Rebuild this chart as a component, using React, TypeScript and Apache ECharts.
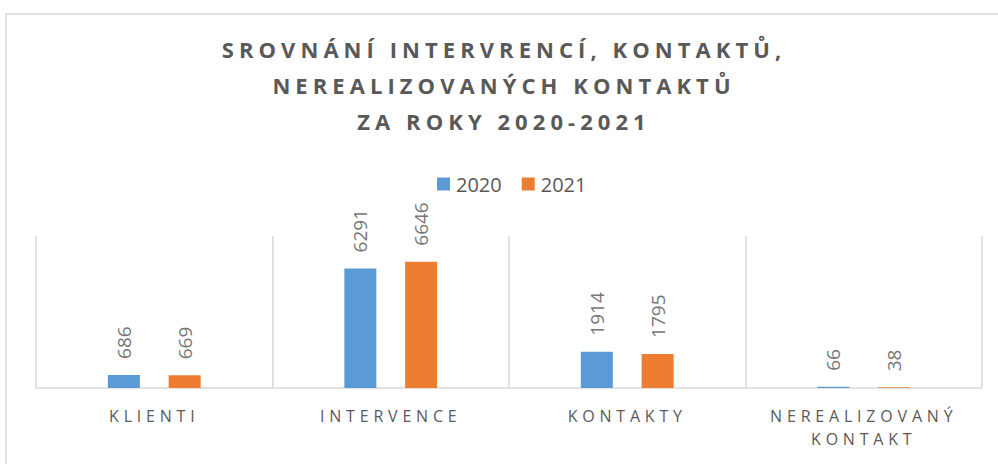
import React, { useEffect, useRef } from "react";
import * as echarts from "echarts";

const categories = ["KLIENTI", "INTERVENCE", "KONTAKTY", "NEREALIZOVANÝ KONTAKT"];
const seriesNames = ["2020", "2021"];
const values2020 = [686, 6291, 1914, 66];
const values2021 = [669, 6646, 1795, 38];
const titleLines = ["SROVNÁNÍ INTERVRENCÍ, KONTAKTŮ,", "NEREALIZOVANÝCH KONTAKTŮ", "ZA ROKY 2020-2021"];

const TITLE_COLOR = "#595959";
const AXIS_COLOR = "#5a5a5a";

export default function App() {
  const ref = useRef<HTMLDivElement>(null);
  useEffect(() => {
    if (!ref.current) return;
    const chart = echarts.init(ref.current, null, { renderer: "svg" });
    const font = "Open Sans";
    const label = {
      show: true,
      position: "top",
      rotate: 90,
      align: "left",
      verticalAlign: "middle",
      distance: 16,
      fontSize: 19,
      color: "#767676",
      fontFamily: font,
    };
    chart.setOption({
      animation: false,
      backgroundColor: "#ffffff",
      title: {
        text: titleLines.join("\n"),
        left: 499,
        top: 26,
        textAlign: "center",
        textStyle: {
          fontSize: 22,
          fontWeight: "bold",
          color: TITLE_COLOR,
          lineHeight: 36,
          fontFamily: font,
        },
      },
      legend: {
        data: seriesNames,
        left: 432,
        top: 169,
        icon: "rect",
        itemWidth: 13,
        itemHeight: 13,
        itemGap: 20,
        textStyle: { fontSize: 20, color: "#595957", fontFamily: font, padding: [0, 0, 0, 1] },
      },
      graphic: [
        {
          type: "rect",
          silent: true,
          z: -10,
          shape: { x: 6, y: 14, width: 1100, height: 600 },
          style: { fill: "none", stroke: "#d9d9d9", lineWidth: 1.5 },
        },
      ],
      grid: { left: 36, right: 16, top: 236, bottom: 76 },
      xAxis: {
        type: "category",
        data: categories,
        axisLine: { lineStyle: { color: "#d9d9d9", width: 1.5 } },
        axisTick: { show: false },
        splitLine: { show: true, lineStyle: { color: "#d9d9d9", width: 1.5 } },
        axisLabel: {
          interval: 0,
          margin: 16,
          fontSize: 16,
          lineHeight: 23,
          color: AXIS_COLOR,
          fontFamily: font,
          formatter: (v: string) => v.replace(" ", "\n"),
        },
      },
      yAxis: {
        type: "value",
        min: 0,
        max: 8000,
        show: false,
        splitLine: { show: false },
      },
      series: [
        {
          name: seriesNames[0],
          type: "bar",
          data: values2020,
          barWidth: 32,
          barGap: "90%",
          itemStyle: { color: "#5b9bd5" },
          label,
        },
        {
          name: seriesNames[1],
          type: "bar",
          data: values2021,
          barWidth: 32,
          barGap: "90%",
          itemStyle: { color: "#ed7d31" },
          label,
        },
      ],
    });
    return () => chart.dispose();
  }, []);
  return (
    <>
      <style>{`
        text[fill="${TITLE_COLOR}"] { letter-spacing: 0.23em; }
        text[fill="${AXIS_COLOR}"] { letter-spacing: 0.3em; }
      `}</style>
      <div
        ref={ref}
        style={{ position: "fixed", left: 0, top: 0, width: 998, height: 464, background: "#fff" }}
      />
    </>
  );
}
